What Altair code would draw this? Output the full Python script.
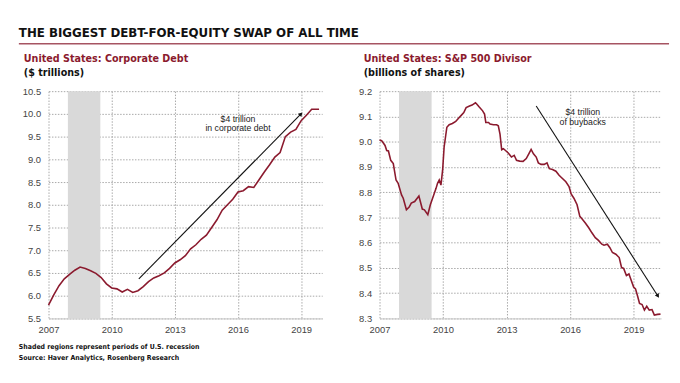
import altair as alt
import pandas as pd

# ---------------- data ----------------
headline = ["THE BIGGEST DEBT-FOR-EQUITY SWAP OF ALL TIME"]
left_title = ["United States: Corporate Debt"]
left_unit = ["($ trillions)"]
right_title = ["United States: S&P 500 Divisor"]
right_unit = ["(billions of shares)"]
foot1 = ["Shaded regions represent periods of U.S. recession"]
foot2 = ["Source: Haver Analytics, Rosenberg Research"]

year_ticks = [2007, 2010, 2013, 2016, 2019]
debt_ticks = [5.5, 6.0, 6.5, 7.0, 7.5, 8.0, 8.5, 9.0, 9.5, 10.0, 10.5]
div_ticks = [8.3, 8.4, 8.5, 8.6, 8.7, 8.8, 8.9, 9.0, 9.1, 9.2]

rec_start = [2007.92]
rec_end = [2009.46]

debt_year = [2007.00, 2007.25, 2007.50, 2007.75, 2008.00, 2008.25, 2008.50, 2008.75,
             2009.00, 2009.25, 2009.50, 2009.75, 2010.00, 2010.25, 2010.50, 2010.75,
             2011.00, 2011.25, 2011.50, 2011.75, 2012.00, 2012.25, 2012.50, 2012.75,
             2013.00, 2013.25, 2013.50, 2013.75, 2014.00, 2014.25, 2014.50, 2014.75,
             2015.00, 2015.25, 2015.50, 2015.75, 2016.00, 2016.25, 2016.50, 2016.75,
             2017.00, 2017.25, 2017.50, 2017.75, 2018.00, 2018.25, 2018.50, 2018.75,
             2019.00, 2019.25, 2019.50, 2019.85]
debt_value = [5.79, 6.02, 6.22, 6.37, 6.47, 6.56, 6.63, 6.60,
              6.55, 6.49, 6.40, 6.26, 6.17, 6.15, 6.08, 6.14,
              6.07, 6.11, 6.20, 6.31, 6.39, 6.44, 6.50, 6.60,
              6.72, 6.79, 6.88, 7.03, 7.12, 7.24, 7.33, 7.50,
              7.67, 7.88, 8.00, 8.12, 8.28, 8.31, 8.40, 8.38,
              8.55, 8.72, 8.88, 9.05, 9.15, 9.50, 9.60, 9.66,
              9.85, 9.97, 10.10, 10.10]

div_year = [2007.00, 2007.10, 2007.26, 2007.34, 2007.42, 2007.53, 2007.65, 2007.78,
            2007.88, 2008.04, 2008.12, 2008.27, 2008.40, 2008.50, 2008.66, 2008.86,
            2009.02, 2009.12, 2009.28, 2009.40, 2009.56, 2009.67, 2009.74, 2009.82,
            2009.90, 2009.98, 2010.05, 2010.18, 2010.29, 2010.44, 2010.60, 2010.72,
            2010.88, 2010.98, 2011.09, 2011.25, 2011.37, 2011.53, 2011.60, 2011.71,
            2011.87, 2011.96, 2012.02, 2012.15, 2012.22, 2012.38, 2012.53, 2012.61,
            2012.69, 2012.77, 2012.85, 2012.95, 2013.08, 2013.23, 2013.36, 2013.47,
            2013.62, 2013.78, 2013.93, 2014.05, 2014.16, 2014.27, 2014.40, 2014.50,
            2014.63, 2014.78, 2014.91, 2015.02, 2015.17, 2015.33, 2015.48, 2015.64,
            2015.80, 2015.95, 2016.05, 2016.18, 2016.33, 2016.46, 2016.57, 2016.72,
            2016.88, 2017.03, 2017.19, 2017.34, 2017.50, 2017.60, 2017.76, 2017.88,
            2018.00, 2018.16, 2018.32, 2018.43, 2018.53, 2018.66, 2018.78, 2018.89,
            2019.00, 2019.09, 2019.20, 2019.28, 2019.40, 2019.51, 2019.62, 2019.74,
            2019.87, 2019.98, 2020.13, 2020.27]
div_value = [9.007, 9.004, 8.985, 8.965, 8.963, 8.926, 8.913, 8.848,
             8.835, 8.789, 8.776, 8.730, 8.741, 8.757, 8.763, 8.785,
             8.733, 8.730, 8.711, 8.750, 8.789, 8.815, 8.835, 8.848,
             8.828, 8.887, 8.978, 9.057, 9.067, 9.072, 9.080, 9.092,
             9.106, 9.115, 9.135, 9.141, 9.145, 9.154, 9.148, 9.137,
             9.122, 9.109, 9.076, 9.076, 9.070, 9.067, 9.067, 9.063,
             9.030, 8.968, 8.972, 8.965, 8.955, 8.939, 8.946, 8.926,
             8.923, 8.922, 8.933, 8.952, 8.969, 8.952, 8.939, 8.916,
             8.910, 8.910, 8.916, 8.893, 8.890, 8.883, 8.867, 8.854,
             8.841, 8.822, 8.793, 8.776, 8.750, 8.704, 8.694, 8.678,
             8.659, 8.639, 8.620, 8.609, 8.594, 8.590, 8.594, 8.580,
             8.561, 8.554, 8.541, 8.502, 8.498, 8.470, 8.476, 8.450,
             8.424, 8.417, 8.385, 8.359, 8.355, 8.333, 8.348, 8.333,
             8.335, 8.313, 8.316, 8.317]

left_arrow_x = [2011.29, 2018.97]
left_arrow_y = [6.37, 9.99]
left_note = ["$4 trillion", "in corporate debt"]
left_note_x = [2016.0, 2016.0]
left_note_y = [9.89, 9.68]

right_arrow_x = [2014.40, 2020.13]
right_arrow_y = [9.141, 8.391]
right_note = ["$4 trillion", "of buybacks"]
right_note_x = [2016.6, 2016.6]
right_note_y = [9.118, 9.076]

# ---------------- styling ----------------
RED = "#8B1A2E"
HEAD_FONT = "Liberation Sans Narrow, DejaVu Sans Condensed, sans-serif"
LAB_FONT = "Liberation Sans"
GRID = "#a8a8a8"
H = 230
W1, W2 = 277, 285


def panel(years, values, xdom, ydom, yticks, width, ax, ay, nx, ny, ntext, angle):
    xaxis = alt.Axis(values=year_ticks, tickCount=30, format="d", title=None,
                     grid=True, gridDash=[1.5, 1.5], gridColor=GRID, ticks=False,
                     labelPadding=6, domainColor="#c8c8c8", labelFlush=False,
                     labelOverlap=False,
                     labelFont=LAB_FONT, labelFontSize=9.5, labelColor="#444")
    yaxis = alt.Axis(values=yticks, tickCount=30, format=".1f", title=None,
                     grid=True, gridDash=[1.5, 1.5], gridColor=GRID, ticks=False,
                     domain=False, labelPadding=8, labelOverlap=False,
                     labelFlush=False,
                     labelFont=LAB_FONT, labelFontSize=9.5, labelColor="#444")
    xs = alt.Scale(domain=xdom, nice=False, zero=False)
    ys = alt.Scale(domain=ydom, nice=False, zero=False)

    rec = alt.Chart(pd.DataFrame({"s": rec_start, "e": rec_end})).mark_rect(
        color="#d9d9d9").encode(
        x=alt.X("s:Q", scale=xs, axis=xaxis), x2="e:Q",
        y=alt.value(0), y2=alt.value(H))

    line = alt.Chart(pd.DataFrame({"yr": years, "v": values})).mark_line(
        color=RED, strokeWidth=1.6).encode(
        x=alt.X("yr:Q", scale=xs, axis=xaxis),
        y=alt.Y("v:Q", scale=ys, axis=yaxis))

    arr_df = pd.DataFrame({"ax": ax, "ay": ay})
    arrow = alt.Chart(arr_df).mark_line(color="#111", strokeWidth=1.1).encode(
        x="ax:Q", y="ay:Q")
    head = alt.Chart(arr_df.iloc[[1]]).mark_point(
        shape="triangle", filled=True, size=22, color="#111", opacity=1,
        angle=angle).encode(x="ax:Q", y="ay:Q")

    note = alt.Chart(pd.DataFrame({"nx": nx, "ny": ny, "t": ntext})).mark_text(
        font=LAB_FONT, fontSize=8.8, color="#222", align="center",
        baseline="middle").encode(x="nx:Q", y="ny:Q", text="t:N")

    return alt.layer(rec, line, arrow, head, note).properties(width=width, height=H)


def txt(lst, x, y, size, weight="normal", color="#111", font=HEAD_FONT):
    return alt.Chart(pd.DataFrame({"t": lst})).mark_text(
        align="left", baseline="middle", font=font, fontSize=size,
        fontWeight=weight, color=color).encode(
        x=alt.value(x), y=alt.value(y), text="t:N")


left = panel(debt_year, debt_value, [2007, 2020], [5.5, 10.5], debt_ticks, W1,
             left_arrow_x, left_arrow_y, left_note_x, left_note_y, left_note, 44.5)
right = panel(div_year, div_value, [2007, 2020.3], [8.3, 9.2], div_ticks, W2,
              right_arrow_x, right_arrow_y, right_note_x, right_note_y, right_note, 147)

head_rule = alt.Chart(pd.DataFrame({"k": [0]})).mark_rule(
    color="#A65462", strokeWidth=1.5).encode(
    x=alt.value(-30), x2=alt.value(628), y=alt.value(-48))

left_full = alt.layer(
    left,
    head_rule,
    txt(headline, -30, -59, 13.3, "bold"),
    txt(left_title, -25, -33, 10.8, "bold", RED),
    txt(left_unit, -25, -18, 10.8, "bold", "#111"),
    txt(foot1, -30, 259, 7, "bold"),
    txt(foot2, -30, 270, 7, "bold"),
)
right_full = alt.layer(
    right,
    txt(right_title, -16, -33, 10.8, "bold", RED),
    txt(right_unit, -16, -18, 10.8, "bold", "#111"),
)

chart = alt.hconcat(left_full, right_full, spacing=58, bounds="flush").properties(
    padding={"left": 10, "top": 16, "right": 2, "bottom": 2}
).configure_view(stroke=None)

chart.save("out.html", embed_options={"renderer": "svg", "actions": False})
